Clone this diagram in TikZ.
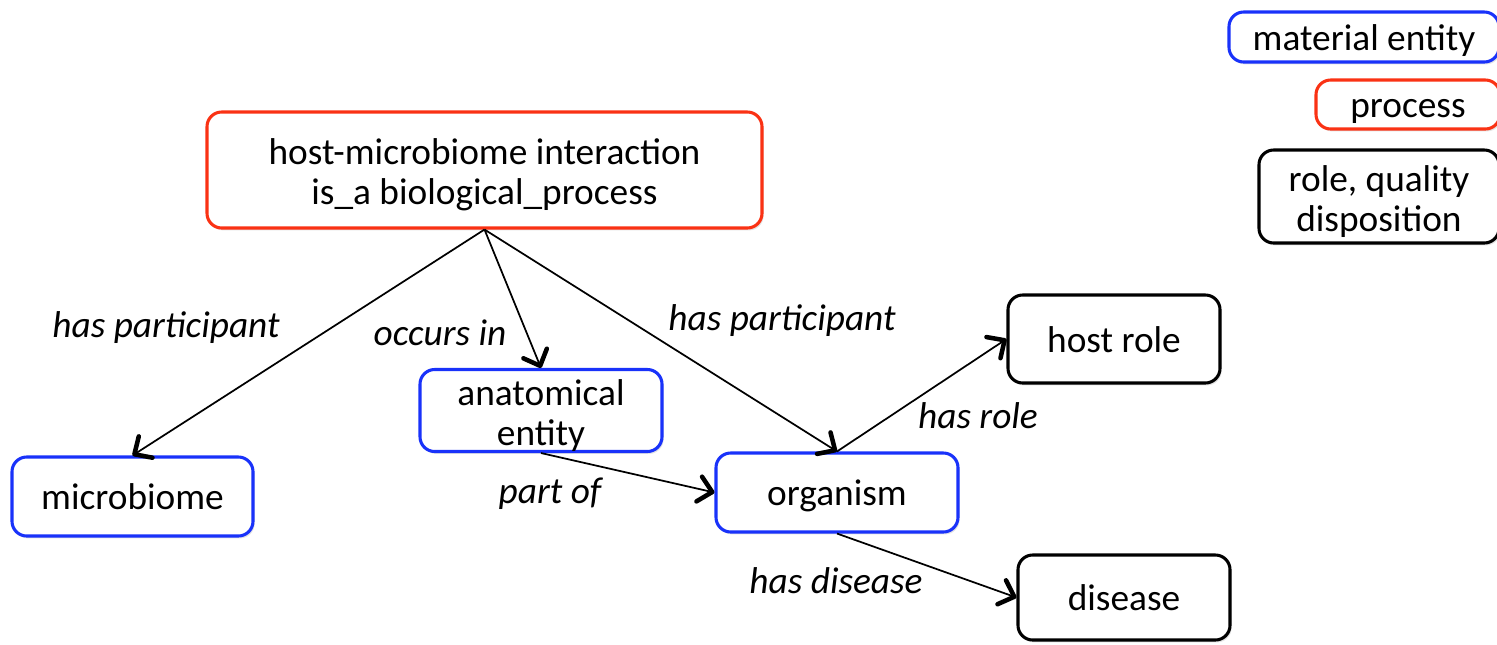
\documentclass[tikz,border=0pt]{standalone}
\usepackage{fontspec}
\setmainfont{Carlito}
\usetikzlibrary{arrows.meta,shadows}
\definecolor{matblue}{RGB}{25,50,250}
\definecolor{procred}{RGB}{250,50,20}
\newcommand{\topstrut}{\rule{0pt}{27pt}}
\tikzset{
  box/.style={draw, line width=2.3pt, rounded corners=11pt, fill=white, align=center,
    inner sep=0pt, font=\fontsize{28}{30}\selectfont,
    drop shadow={shadow xshift=1.2pt, shadow yshift=-1.8pt, opacity=0.22}},
  oneline/.style={text height=24pt, text depth=4pt},
  sz/.style 2 args={minimum width=#1*0.75pt, minimum height=#2*0.75pt},
  matbox/.style={box, draw=matblue},
  procbox/.style={box, draw=procred},
  rolebox/.style={box, draw=black},
  lbl/.style={font=\fontsize{28}{30}\selectfont\itshape, anchor=base, inner sep=0pt},
  arr/.style={-{Straight Barb[length=10pt,width=19pt,line width=3.4pt,round]}, line width=1.3pt},
}
\begin{document}
\begin{tikzpicture}[x=0.75pt,y=-0.75pt]
\useasboundingbox (0,0) rectangle (1497,644);
\clip (0,0) rectangle (1497,644);
% nodes
\node[procbox, sz={555}{116}] (hmi) at (484.5,170) {\topstrut host-microbiome interaction\\is\_a biological\_process};
\node[matbox, oneline, sz={241}{79}] (micro) at (132.5,496.5) {microbiome};
\node[matbox, sz={242}{79}] (anat) at (541,410.5) {\topstrut anatomical\\entity};
\node[matbox, oneline, sz={242}{79}] (org) at (837,492.5) {organism};
\node[rolebox, oneline, sz={212}{88}] (host) at (1114,339) {host role};
\node[rolebox, oneline, sz={212}{85}] (dis) at (1124,597.5) {disease};
% legend
\node[matbox, oneline, sz={270}{50}] (lmat) at (1364,37) {material entity};
\node[procbox, oneline, sz={184}{49}] (lproc) at (1408,104.5) {process};
\node[rolebox, sz={240}{93}] (lrole) at (1379,196.5) {\topstrut role, quality\\disposition};
% edges
\draw[arr] (hmi.south) -- (micro.north);
\draw[arr] (hmi.south) -- (anat.north);
\draw[arr] (hmi.south) -- (org.north);
\draw[arr] (anat.south) -- (org.west);
\draw[arr] (org.north) -- (host.west);
\draw[arr] (org.south) -- (dis.west);
% labels
\node[lbl] (l1) at (166,337) {has participant};
\node[lbl] (l2) at (440,345) {occurs in};
\node[lbl] (l3) at (782,330) {has participant};
\node[lbl] (l4) at (978,428) {has role};
\node[lbl] (l5) at (550,503) {part of};
\node[lbl] (l6) at (836,593) {has disease};
\end{tikzpicture}
\end{document}
